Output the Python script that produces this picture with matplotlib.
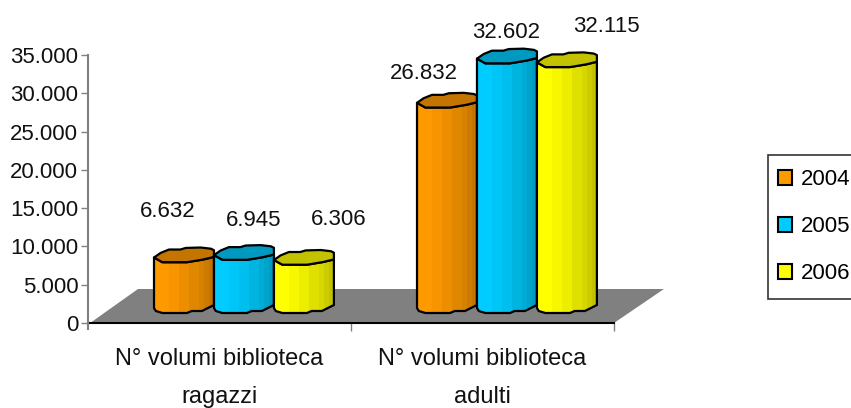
import matplotlib
matplotlib.use('Agg')
import matplotlib.pyplot as plt
from matplotlib.patches import Polygon, Patch, Rectangle
from matplotlib.ticker import FuncFormatter

# dati
categories = ['N° volumi biblioteca\nragazzi', 'N° volumi biblioteca\nadulti']
years = ['2004', '2005', '2006']
v2004 = [6632, 26832]
v2005 = [6945, 32602]
v2006 = [6306, 32115]
label_text = [['6.632', '26.832'], ['6.945', '32.602'], ['6.306', '32.115']]

colors = ['#FF9900', '#00CCFF', '#FFFF00']
top_colors = ['#C47500', '#0099BF', '#C2C200']
# spostamento etichette in pixel rispetto al centro-alto della barra
label_off = [[(-16, 51), (-23, 34), ], [(10, 39), (-1, 31)], [(35, 45), (39, 41)]]

plt.rcParams['font.family'] = ['Liberation Sans', 'DejaVu Sans']
fig = plt.figure(figsize=(8.51, 4.08), dpi=100)
ax = fig.add_axes([88 / 851, 1 - 323 / 408, 526 / 851, 268 / 408])
ax.set_xlim(0, 2)
ax.set_ylim(0, 35000)

PY = 35000 / 268   # valore per pixel
BASE = 10 * PY     # le barre stanno sul pavimento

# pavimento grigio
floor = Polygon([(0.004, 0), (1.0, 0), (1.095, 34 / 268), (0.095, 34 / 268)],
                closed=True, transform=ax.transAxes, color='#808080', lw=0,
                clip_on=False, zorder=1)
ax.add_patch(floor)

# profilo dei cilindri (frazione di larghezza, pixel sopra il livello)
front = [(0, 4.7), (0.14, 0), (0.55, 0), (0.82, 2.7), (1, 5.3)]
back = [(1, 12), (0.95, 13.5), (0.78, 14.7), (0.53, 14.3), (0.44, 12.7), (0.25, 12.7), (0.11, 9.3)]
bottom = [(1, 8), (0.8, 2), (0.63, 2), (0.55, 0), (0.14, 0), (0.03, 2), (0, 5)]
shades = [1, 1, 1, 0.97, 0.97, 0.93, 0.93, 0.88, 0.88, 0.84, 0.8, 0.76]
WIDTH = 0.228
OFFS = [-0.228, 0, 0.228]


def cylinder(xc, val, col, topcol, z):
    x0 = xc - WIDTH / 2
    top = BASE + val
    pt = lambda p, lev: (x0 + p[0] * WIDTH, lev + p[1] * PY)
    body = [pt(p, top) for p in front] + [pt(p, BASE) for p in bottom]
    cap = [pt(p, top) for p in front] + [pt(p, top) for p in back]
    # bande di colore da sinistra a destra
    ax.add_patch(Polygon(body, closed=True, fc='none', ec='black', lw=1.6, zorder=z + 0.2,
                         clip_on=False, joinstyle='round'))
    rgb = matplotlib.colors.to_rgb(col)
    n = len(shades)
    for i, s in enumerate(shades):
        c = tuple(v * s for v in rgb)
        st = ax.fill_between([x0 + i * WIDTH / n, x0 + (i + 1) * WIDTH / n + 0.001],
                             0, top + 20 * PY, color=c, lw=0, zorder=z)
        st.set_clip_path(Polygon(body, closed=True, transform=ax.transData))
    ax.add_patch(Polygon(cap, closed=True, fc=topcol, ec='black', lw=1.6, zorder=z + 0.3,
                         clip_on=False, joinstyle='round'))


series = [v2004, v2005, v2006]
for s, vals in enumerate(series):
    for g, v in enumerate(vals):
        xc = g + 0.593 + OFFS[s]
        cylinder(xc, v, colors[s], top_colors[s], 3 + s)
        ox, oy = label_off[s][g]
        ax.annotate(label_text[s][g], (xc, BASE + v), xytext=(ox * 0.72, oy * 0.72),
                    textcoords='offset points', ha='center', va='center',
                    fontsize=16, color='#111111', annotation_clip=False)

# assi
for k in ['top', 'right']:
    ax.spines[k].set_visible(False)
ax.spines['left'].set_color('#808080')
ax.spines['left'].set_linewidth(1.5)
ax.spines['left'].set_bounds(-6 * PY, 35000)
ax.spines['bottom'].set_color('black')
ax.spines['bottom'].set_linewidth(1.5)
ax.spines['bottom'].set_zorder(2)
ax.set_yticks(range(0, 35001, 5000))
ax.yaxis.set_major_formatter(FuncFormatter(lambda v, p: f'{int(v):,}'.replace(',', '.')))
ax.tick_params(axis='y', length=5, width=1, color='#808080', labelsize=16,
               labelcolor='#111111', pad=2)
ax.set_xticks([1, 2])
ax.set_xticklabels([])
ax.set_xticks([0.5, 1.5], minor=True)
ax.set_xticklabels(categories, minor=True, fontsize=17, color='#111111', linespacing=1.95)
ax.tick_params(axis='x', which='major', length=6, width=1, color='#808080')
ax.tick_params(axis='x', which='minor', length=0, pad=18)

# legenda: riquadro a parte, esce dal bordo destro come nell'originale
fig.add_artist(Rectangle((768 / 851, 1 - 299 / 408), 100 / 851, 144 / 408, zorder=-1,
                         transform=fig.transFigure, fc='white', ec='#333333', lw=1.2))
handles = [Patch(fc=c, ec='black', lw=1.5) for c in colors]
leg = ax.legend(handles, years, loc='upper left', bbox_to_anchor=(778 / 851, 1 - 169 / 408),
                bbox_transform=fig.transFigure, borderaxespad=0, borderpad=0, fontsize=16,
                frameon=False, handlelength=0.64, handleheight=0.64,
                handletextpad=0.4, labelspacing=1.18)
leg.set_zorder(10)

fig.savefig('out.png', dpi=100)
